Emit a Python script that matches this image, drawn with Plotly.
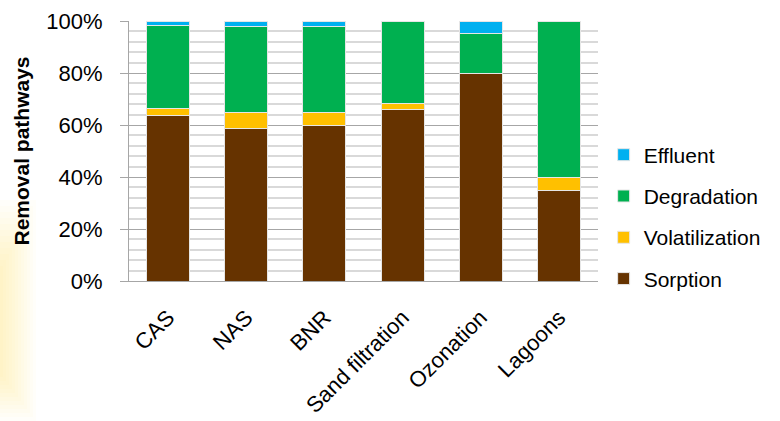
import plotly.graph_objects as go

categories = ["CAS", "NAS", "BNR", "Sand filtration", "Ozonation", "Lagoons"]
sorption = [63.5, 58.5, 59.7, 66.0, 79.8, 35.0]
volatilization = [2.7, 6.2, 5.0, 2.1, 0.0, 5.0]
degradation = [31.9, 33.3, 33.3, 31.9, 15.5, 60.0]
effluent = [1.9, 2.0, 2.0, 0.0, 4.7, 0.0]

series = [
    ("Sorption", sorption, "#663300", 4),
    ("Volatilization", volatilization, "#FFC000", 3),
    ("Degradation", degradation, "#00B050", 2),
    ("Effluent", effluent, "#00B0F0", 1),
]

W, H = 780, 421
L, R, T, B = 129, 182, 21, 140
PW, PH = W - L - R, H - T - B

fig = go.Figure()
for name, vals, col, rank in series:
    fig.add_trace(go.Bar(
        x=categories, y=vals, name=name, legendgroup=name, legendrank=rank,
        marker=dict(color=col, line=dict(color="#E6E6E6", width=1)),
    ))

def px_x(p):
    return (p - L) / PW

def px_y(p):
    return (H - B - p) / PH

# soft yellow glow on the left edge (slide background)
shapes = []
for i in range(12):
    wpx = 36 - i * 3
    y0 = 200 + i * 6
    y1 = 421 - i * 4
    shapes.append(dict(type="rect", xref="paper", yref="paper",
                       x0=px_x(0), x1=px_x(wpx), y0=px_y(y1), y1=px_y(y0),
                       fillcolor="rgba(252,205,70,0.028)", line=dict(width=0), layer="below"))

fig.update_layout(
    barmode="stack",
    bargap=0.45,
    width=W, height=H,
    margin=dict(l=L, r=R, t=T, b=B, autoexpand=False),
    paper_bgcolor="white",
    plot_bgcolor="white",
    font=dict(family="Liberation Sans, Arial, sans-serif", size=22, color="black"),
    showlegend=True,
    shapes=shapes,
    legend=dict(
        traceorder="grouped", tracegroupgap=11,
        x=1.012, xanchor="left", y=0.246, yanchor="middle",
        font=dict(size=21), bgcolor="rgba(0,0,0,0)",
    ),
    xaxis=dict(
        tickangle=-45, showline=True, linecolor="#A6A6A6", linewidth=1,
        ticks="", showgrid=False, tickfont=dict(size=22), ticklabelstandoff=14,
        automargin=False,
    ),
    yaxis=dict(
        range=[0, 100], dtick=20, ticksuffix="%",
        showline=True, linecolor="#A6A6A6", linewidth=1,
        ticks="outside", ticklen=8, tickcolor="#A6A6A6",
        showgrid=True, gridcolor="#A6A6A6", gridwidth=1,
        minor=dict(dtick=4, showgrid=True, gridcolor="#D9D9D9", gridwidth=2),
        tickfont=dict(size=22), ticklabelstandoff=13,
        title=dict(text="<b>Removal pathways</b>", font=dict(size=21), standoff=10),
        zeroline=False, automargin=False,
    ),
)

fig.write_html("out.html", config={"displayModeBar": False},
               post_script="document.body.style.margin='0';")
